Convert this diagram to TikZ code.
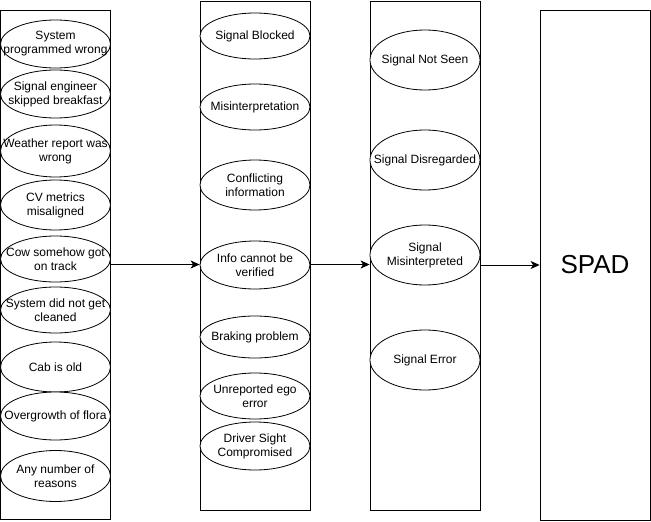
\documentclass[tikz,border=0pt]{standalone}
\usepackage{fontspec}
\setmainfont{Liberation Sans}
\usetikzlibrary{shapes.geometric,arrows.meta}
\tikzset{
  cadre/.style={draw, minimum width=110pt, inner sep=0pt},
  ovale/.style={draw, ellipse, fill=white, minimum width=110pt, inner sep=-20pt, align=center, font=\fontsize{12}{14}\selectfont},
  fleche/.style={-{Stealth[length=9pt,width=8pt,inset=2.5pt]}}
}
\begin{document}
\begin{tikzpicture}[thick, x=1pt, y=-1pt]
\useasboundingbox (0,0) rectangle (651,522); % Pour la bounding box

% Les quatre cadres
\node [cadre, minimum height=509pt] (causes) at (55.5,264.5) {};
\node [cadre, minimum height=509pt] (facteurs) at (255,255.5) {};
\node [cadre, minimum height=509pt] (erreurs) at (425,255.5) {};
\node [cadre, minimum height=510pt, font=\fontsize{26}{30}\selectfont] (spad) at (595,265) {SPAD};

% Premiere colonne
\node [ovale, minimum height=48pt] (prog) at (55.5,44) {System\\programmed wrong};
\node [ovale, minimum height=48pt] (petitdej) at (55.5,94) {Signal engineer\\skipped breakfast};
\node [ovale, minimum height=52pt] (meteo) at (55.5,151) {Weather report was\\wrong};
\node [ovale, minimum height=50pt] (cv) at (55.5,205) {CV metrics\\misaligned};
\node [ovale, minimum height=46pt] (vache) at (55.5,259) {Cow somehow got\\on track};
\node [ovale, minimum height=46pt] (nettoyage) at (55.5,310) {System did not get\\cleaned};
\node [ovale, minimum height=50pt] (cabine) at (55.5,367) {Cab is old};
\node [ovale, minimum height=48pt] (flore) at (55.5,416) {Overgrowth of flora};
\node [ovale, minimum height=51pt] (raisons) at (55.5,476) {Any number of\\reasons};

% Deuxieme colonne
\node [ovale, minimum height=46pt] (bloque) at (255,36) {Signal Blocked};
\node [ovale, minimum height=46pt] (interp) at (255,107) {Misinterpretation};
\node [ovale, minimum height=50pt] (conflit) at (255,185) {Conflicting\\information};
\node [ovale, minimum height=48pt] (verif) at (255,265) {Info cannot be\\verified};
\node [ovale, minimum height=42pt] (freinage) at (255,337) {Braking problem};
\node [ovale, minimum height=46pt] (ego) at (255,396) {Unreported ego\\error};
\node [ovale, minimum height=48pt] (vue) at (255,446) {Driver Sight\\Compromised};

% Troisieme colonne
\node [ovale, minimum height=60pt] (nonvu) at (425,60) {Signal Not Seen};
\node [ovale, minimum height=60pt] (ignore) at (425,160) {Signal Disregarded};
\node [ovale, minimum height=60pt] (malinterp) at (425,255) {Signal\\Misinterpreted};
\node [ovale, minimum height=60pt] (erreur) at (425,360) {Signal Error};

% Les fleches
\draw [fleche] (causes.east) -- (causes.east -| facteurs.west);
\draw [fleche] (facteurs.east |- causes.east) -- (erreurs.west |- causes.east);
\draw [fleche] (erreurs.east |- spad.west) -- (spad.west);
\end{tikzpicture}
\end{document}
